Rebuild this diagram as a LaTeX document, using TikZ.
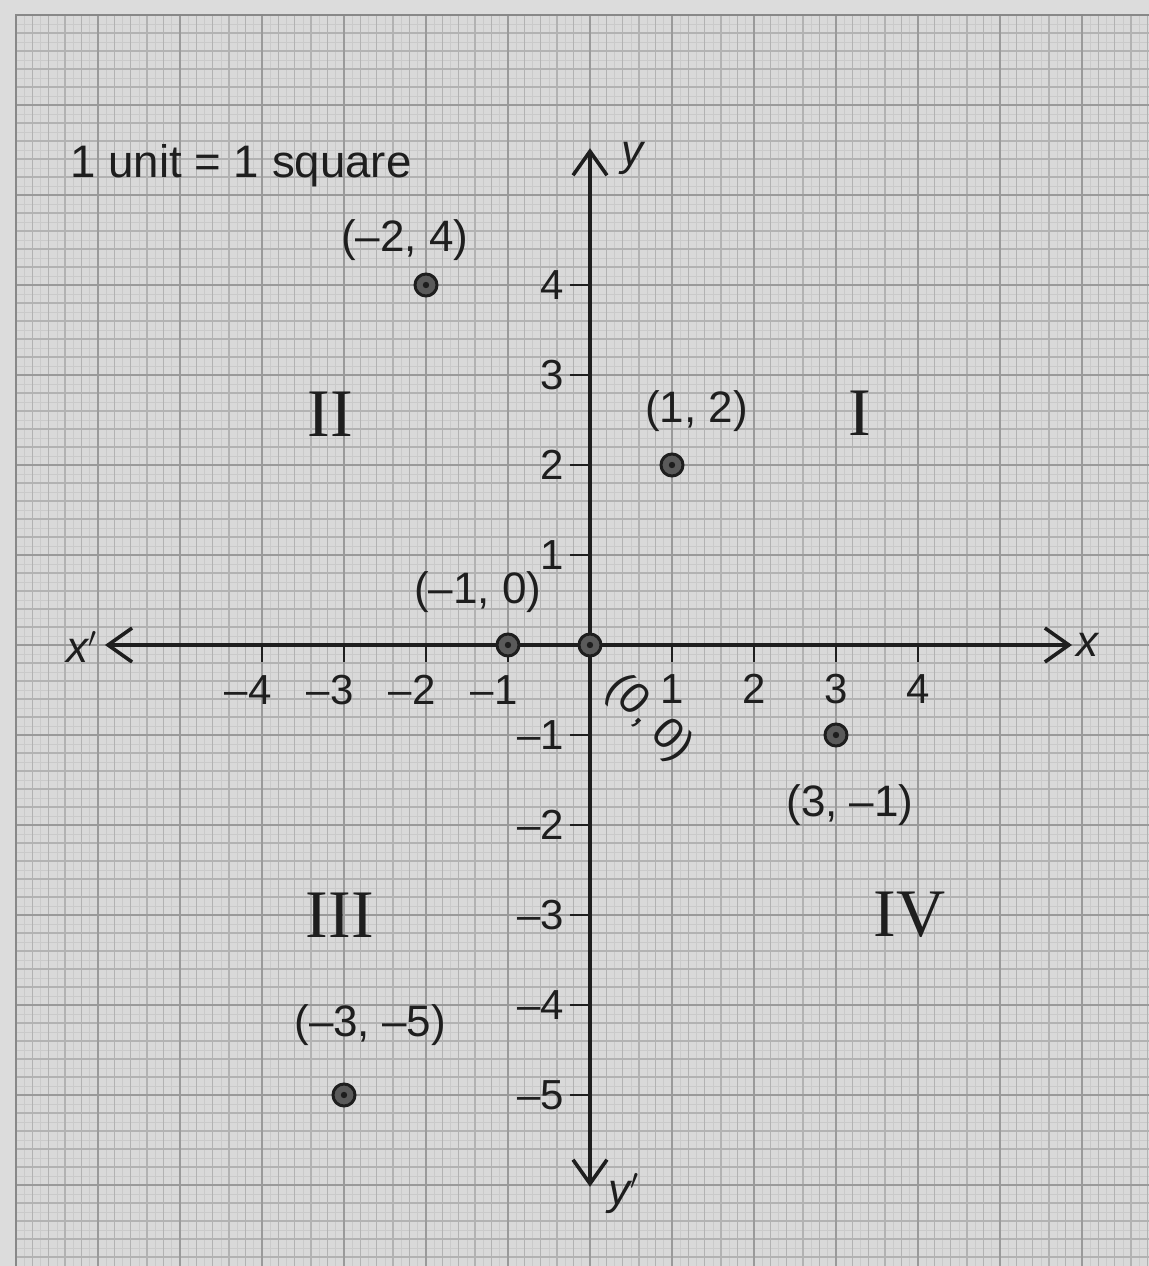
\documentclass[tikz,border=0pt]{standalone}
\usepackage{fontspec}
\setmainfont{Liberation Sans}
\newfontfamily\quadfont{Liberation Serif}
\usetikzlibrary{arrows.meta}
\definecolor{outbg}{HTML}{DCDCDC}
\definecolor{paper}{HTML}{D9D9D9}
\definecolor{gfine}{HTML}{CACACA}
\definecolor{gmid}{HTML}{B2B2B2}
\definecolor{gmajor}{HTML}{9A9A9A}
\definecolor{gborder}{HTML}{888888}
\definecolor{ink}{HTML}{1E1E1E}
\definecolor{ptfill}{HTML}{5A5A5A}
\begin{document}
\begin{tikzpicture}[x=41pt,y=45pt,
  lbl/.style={font=\fontsize{22}{26}\selectfont, text=ink, inner sep=0pt},
  notelbl/.style={font=\fontsize{22.8}{27}\selectfont, text=ink, inner sep=0pt},
  ticklbl/.style={font=\fontsize{21}{25}\selectfont, text=ink, inner sep=0pt},
  quad/.style={font=\quadfont\fontsize{34}{40}\selectfont, text=ink, inner sep=0pt},
  axlbl/.style={font=\itshape\fontsize{22}{26}\selectfont, text=ink, inner sep=0pt},
  ptc/.style={circle, draw=ink, line width=1.5pt, fill=ptfill, minimum size=11pt, inner sep=0pt},
  axisline/.style={draw=ink, line width=1.8pt, {Straight Barb[length=12pt,width=17pt]}-{Straight Barb[length=12pt,width=17pt]}},
  tickline/.style={draw=ink, line width=0.9pt},
  fineline/.style={draw=gfine, line width=0.4pt},
  midline/.style={draw=gmid, line width=0.7pt},
  majorline/.style={draw=gmajor, line width=1pt},
  borderline/.style={draw=gborder, line width=1.2pt}
]
\useasboundingbox (-7.1951,-6.9) rectangle (6.8171,7.1667);
\fill[outbg] (-7.1951,-6.9) rectangle (6.8171,7.1667);
\fill[paper] (-7,-6.9) rectangle (6.8171,7);
\draw[fineline, xstep=0.1, ystep=0.1] (-7,-6.9) grid (6.8171,7);
\draw[midline, xstep=0.2, ystep=0.2] (-7,-6.9) grid (6.8171,7);
\draw[majorline, xstep=1, ystep=1] (-7,-6.9) grid (6.8171,7);
\draw[borderline] (-7,-6.9) -- (-7,7) -- (6.8171,7);

% axes
\coordinate (xl) at (-5.915,0);
\coordinate (xr) at (5.878,0);
\coordinate (yt) at (0,5.52);
\coordinate (yb) at (0,-6.02);
\draw[axisline] (xl) -- (xr);
\draw[axisline] (yb) -- (yt);

% ticks
\foreach \k in {-4,-3,-2,-1,1,2,3,4} {
  \draw[tickline] (\k,0) -- (\k,-0.19);
}
\foreach \k in {-5,-4,-3,-2,-1,1,2,3,4} {
  \draw[tickline] (-0.24,\k) -- (0,\k);
}

% tick labels
\foreach \k in {1,2,3,4} {
  \node[ticklbl] (xp\k) at (\k,-0.49) {\k};
  \node[ticklbl, anchor=east] (yp\k) at (-0.31,\k) {\k};
}
\foreach \k in {1,2,3,4} {
  \node[ticklbl] (xn\k) at (-\k-0.17,-0.5) {–\k};
}
\foreach \k in {1,2,3,4,5} {
  \node[ticklbl, anchor=east] (yn\k) at (-0.31,-\k) {–\k};
}

% axis labels
\node[axlbl] (xlab) at (6.07,0) {x};
\node[axlbl] (xplab) at (-6.2,-0.02) {x$'$};
\node[axlbl] (ylab) at (0.52,5.41) {y};
\node[axlbl] (yplab) at (0.42,-6.09) {y$'$};

% scale note
\node[notelbl, anchor=base west] (note) at (-6.34,5.19) {1 unit = 1 square};

% points
\node[ptc] (A) at (-2,4) {};
\node[ptc] (B) at (1,2) {};
\node[ptc] (C) at (-1,0) {};
\node[ptc] (O) at (0,0) {};
\node[ptc] (D) at (3,-1) {};
\node[ptc] (E) at (-3,-5) {};
\foreach \p in {A,B,C,O,D,E} { \fill[ink] (\p) circle (1.6pt); }

% point labels
\node[lbl] (lA) at (-2.26,4.5) {(–2, 4)};
\node[lbl] (lB) at (1.30,2.6) {(1, 2)};
\node[lbl] (lC) at (-1.37,0.59) {(–1, 0)};
\node[lbl, rotate=-45] (lO) at (0.72,-0.82) {(0, 0)};
\node[lbl] (lD) at (3.17,-1.78) {(3, –1)};
\node[lbl] (lE) at (-2.68,-4.22) {(–3, –5)};

% quadrants
\node[quad] (q1) at (3.29,2.58) {I};
\node[quad] (q2) at (-3.17,2.56) {II};
\node[quad] (q3) at (-3.05,-3.0) {III};
\node[quad] (q4) at (3.90,-3.0) {IV};
\end{tikzpicture}
\end{document}
